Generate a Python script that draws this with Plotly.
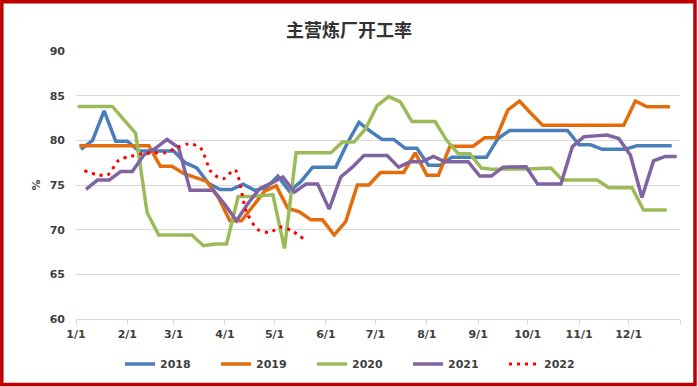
import pandas as pd
import plotly.graph_objects as go

# ---- data (weekly) ----
start_2018 = "2018-01-04"
start_2019 = "2019-01-03"
start_2020 = "2020-01-02"
start_2021 = "2021-01-07"
start_2022 = "2022-01-06"

v2018 = [79.0, 80.0, 83.3, 79.9, 79.9, 78.8, 78.8, 78.8, 78.8, 77.5,
         76.9, 75.2, 74.5, 74.5, 75.1, 74.4, 74.7, 76.0, 74.3, 75.4,
         77.0, 77.0, 77.0, 79.7, 82.0, 81.0, 80.1, 80.1, 79.1, 79.1,
         77.2, 77.2, 78.1, 78.1, 78.1, 78.1, 80.2, 81.1, 81.1, 81.1,
         81.1, 81.1, 81.1, 79.5, 79.5, 79.0, 79.0, 79.0, 79.4, 79.4,
         79.4, 79.4]
v2019 = [79.4, 79.4, 79.4, 79.4, 79.4, 79.4, 79.4, 77.1, 77.1, 76.3,
         75.8, 75.4, 73.6, 71.0, 71.0, 72.7, 74.3, 74.9, 72.4, 72.0,
         71.1, 71.1, 69.4, 70.9, 75.0, 75.0, 76.4, 76.4, 76.4, 78.6,
         76.1, 76.1, 79.35, 79.35, 79.35, 80.3, 80.3, 83.4, 84.4, 83.0,
         81.7, 81.7, 81.7, 81.7, 81.7, 81.7, 81.7, 81.7, 84.4, 83.75,
         83.75, 83.75]
v2020 = [83.8, 83.8, 83.8, 83.8, 82.3, 80.8, 71.9, 69.4, 69.4, 69.4,
         69.4, 68.2, 68.4, 68.4, 73.7, 73.7, 73.8, 73.9, 67.9, 78.6,
         78.6, 78.6, 78.6, 79.8, 79.8, 81.3, 83.9, 84.9, 84.3, 82.1,
         82.1, 82.1, 80.0, 78.5, 78.5, 76.9, 76.75, 76.8, 76.8, 76.8,
         76.85, 76.9, 75.55, 75.55, 75.55, 75.55, 74.7, 74.7, 74.7, 72.2,
         72.2, 72.2]
v2021 = [74.5, 75.55, 75.55, 76.5, 76.5, 78.35, 79.1, 80.1, 79.2, 74.4,
         74.4, 74.4, 72.8, 71.0, 72.95, 74.6, 75.2, 75.9, 74.2, 75.1,
         75.1, 72.3, 75.9, 77.0, 78.3, 78.3, 78.3, 77.0, 77.6, 77.6,
         78.2, 77.6, 77.6, 77.6, 76.0, 76.0, 77.0, 77.05, 77.05, 75.1,
         75.1, 75.1, 79.3, 80.4, 80.5, 80.6, 80.2, 78.35, 73.6, 77.7,
         78.2, 78.2]
v2022 = [76.6, 76.2, 76.1, 77.8, 78.2, 78.5, 78.6, 78.6, 79.2, 79.6,
         79.2, 76.4, 75.7, 76.7, 72.0, 70.0, 69.7, 70.3, 69.8, 68.9]

series_names = ["2018", "2019", "2020", "2021", "2022"]
month_labels = ["1/1", "2/1", "3/1", "4/1", "5/1", "6/1",
                "7/1", "8/1", "9/1", "10/1", "11/1", "12/1"]

DUMMY_YEAR = 2021


def week_dates(start, n):
    d = pd.date_range(start=start, periods=n, freq="7D")
    return [x.replace(year=DUMMY_YEAR) for x in d]


colors = ["#4a7ebb", "#e46c0a", "#9bbb59", "#8064a2", "#ff0000"]
starts = [start_2018, start_2019, start_2020, start_2021, start_2022]
values = [v2018, v2019, v2020, v2021, v2022]

fig = go.Figure()
for name, st, vals, col in zip(series_names, starts, values, colors):
    if name == "2022":
        line = dict(color=col, width=3, dash="3px,5px", shape="spline", smoothing=0.8)
    else:
        line = dict(color=col, width=3.5)
    fig.add_trace(go.Scatter(x=week_dates(st, len(vals)), y=vals, mode="lines",
                             name=name, line=line))

tickvals = [pd.Timestamp(DUMMY_YEAR, m, 1) for m in range(1, 13)] + [pd.Timestamp(DUMMY_YEAR + 1, 1, 1)]
ticktext = month_labels + [""]

W, H = 698, 387
ml, mr, mt, mb = 76, 18, 51, 68
pw, ph = W - ml - mr, H - mt - mb

font_fam = "DejaVu Sans"
fig.update_layout(
    width=W, height=H,
    margin=dict(l=ml, r=mr, t=mt, b=mb, autoexpand=False),
    paper_bgcolor="white", plot_bgcolor="white",
    title=dict(text="主营炼厂开工率", x=0.5, xref="container", xanchor="center",
               y=1 - 31 / H, yref="container", yanchor="middle",
               font=dict(family="Noto Sans CJK SC", size=18, color="#333333", weight="bold")),
    xaxis=dict(type="date", range=[pd.Timestamp(DUMMY_YEAR, 1, 1), pd.Timestamp(DUMMY_YEAR + 1, 1, 1)],
               tickmode="array", tickvals=tickvals, ticktext=ticktext,
               ticks="outside", ticklen=5, tickcolor="#d9d9d9", tickwidth=1,
               showgrid=False, showline=True, linecolor="#d9d9d9", linewidth=1,
               zeroline=False,
               tickfont=dict(family=font_fam, size=11, color="#404040", weight="bold")),
    yaxis=dict(range=[60, 90], dtick=5, tick0=60, showgrid=True, gridcolor="#d9d9d9",
               gridwidth=1, zeroline=False, showline=False, ticks="",
               ticklabelstandoff=10,
               title=dict(text="%", standoff=6,
                          font=dict(family=font_fam, size=11, color="#404040", weight="bold")),
               tickfont=dict(family=font_fam, size=11, color="#404040", weight="bold")),
    legend=dict(orientation="h", x=(120 - ml) / pw, xanchor="left",
                y=(H - 364 - mb) / ph, yanchor="middle",
                entrywidth=51, entrywidthmode="pixels",
                font=dict(family=font_fam, size=11, color="#404040", weight="bold"),
                bgcolor="rgba(0,0,0,0)"),
    showlegend=True,
)

# red border around the whole image
fig.add_shape(type="rect", xref="paper", yref="paper",
              x0=(1.8 - ml) / pw, x1=(695 - ml) / pw,
              y0=(H - 384.5 - mb) / ph, y1=(H - 1.8 - mb) / ph,
              line=dict(color="#c00000", width=3.5), fillcolor="rgba(0,0,0,0)", layer="above")

fig.write_html("out.html", config={"displayModeBar": False},
               post_script="document.body.style.margin='0';document.body.style.overflow='hidden';")
